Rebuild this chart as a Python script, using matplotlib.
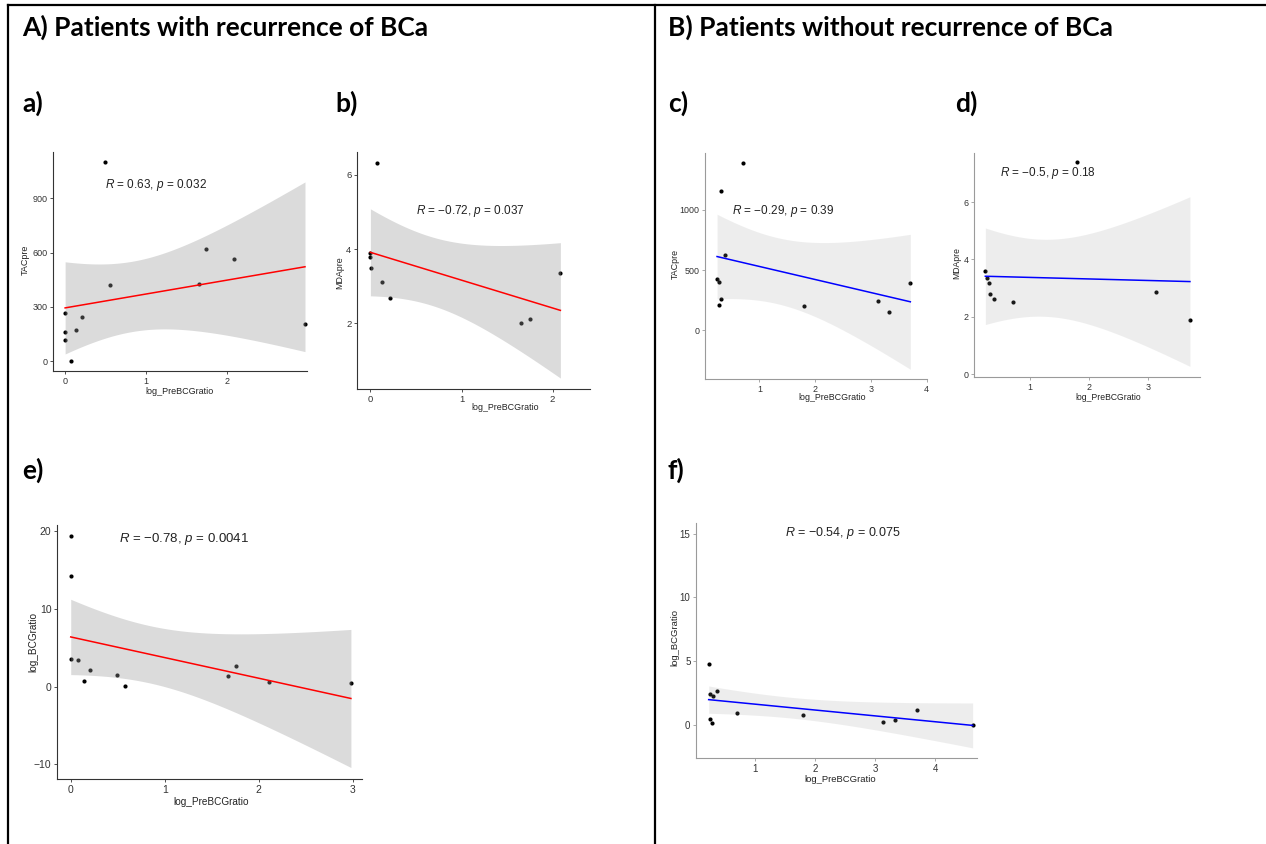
import numpy as np
import matplotlib
matplotlib.use("Agg")
import matplotlib.pyplot as plt
from matplotlib.lines import Line2D

plt.rcParams["font.family"] = ["Liberation Sans", "DejaVu Sans"]
plt.rcParams["mathtext.fontset"] = "custom"
plt.rcParams["mathtext.it"] = "Liberation Sans:italic"
plt.rcParams["mathtext.rm"] = "Liberation Sans"

W, H = 1266, 844

# --- data (log_PreBCGratio vs outcome) ---
# A) patients with recurrence
a_x = [0.49, 0.0, 0.0, 0.0, 0.07, 0.13, 0.21, 0.56, 1.66, 1.75, 2.09, 2.97]
a_y = [1103, 266, 159, 114, 2, 171, 242, 420, 428, 620, 564, 203]

b_x = [0.074, 0.0, 0.0, 0.007, 0.13, 0.21, 1.65, 1.75, 2.085]
b_y = [6.32, 3.90, 3.79, 3.49, 3.11, 2.69, 2.00, 2.12, 3.35]

e_x = [0.0, 0.0, 0.007, 0.078, 0.138, 0.209, 0.497, 0.575, 1.672, 1.764, 2.105, 2.982]
e_y = [19.42, 14.23, 3.60, 3.39, 0.81, 2.14, 1.50, 0.04, 1.41, 2.74, 0.64, 0.47]

# B) patients without recurrence
c_x = [0.713, 0.311, 0.389, 0.240, 0.281, 0.269, 0.305, 1.808, 3.126, 3.323, 3.707]
c_y = [1389, 1160, 625, 424, 402, 209, 259, 204, 245, 154, 391]

d_x = [1.80, 0.25, 0.279, 0.313, 0.324, 0.397, 0.718, 3.12, 3.70]
d_y = [7.40, 3.60, 3.36, 3.17, 2.81, 2.63, 2.52, 2.87, 1.89]

f_x = [0.229, 0.257, 0.301, 0.373, 0.257, 0.290, 0.700, 1.799, 3.124, 3.324, 3.696, 4.622]
f_y = [4.79, 2.43, 2.28, 2.62, 0.45, 0.13, 0.94, 0.76, 0.18, 0.39, 1.13, 0.00]

labels_r = {
    "a": "$R$ = 0.63, $p$ = 0.032",
    "b": "$R$ = \u22120.72, $p$ = 0.037",
    "c": "$R$ = \u22120.29, $p$ = 0.39",
    "d": "$R$ = \u22120.5, $p$ = 0.18",
    "e": "$R$ = \u22120.78, $p$ = 0.0041",
    "f": "$R$ = \u22120.54, $p$ = 0.075",
}

# t quantiles (0.975) for the lm confidence band, by degrees of freedom
T975 = {7: 2.3646, 9: 2.2622, 10: 2.2281}


def lm_band(x, y, n_grid=80):
    x = np.asarray(x, float)
    y = np.asarray(y, float)
    n = len(x)
    b1, b0 = np.polyfit(x, y, 1)
    xg = np.linspace(x.min(), x.max(), n_grid)
    yg = b0 + b1 * xg
    s = np.sqrt(np.sum((y - (b0 + b1 * x)) ** 2) / (n - 2))
    sxx = np.sum((x - x.mean()) ** 2)
    se = s * np.sqrt(1 / n + (xg - x.mean()) ** 2 / sxx)
    t = T975[n - 2]
    return xg, yg, yg - t * se, yg + t * se


def px_axes(l, t, r, b):
    return fig.add_axes([l / W, 1 - b / H, (r - l) / W, (b - t) / H])


def panel(box, x, y, col, band_a, axcol, xlim, ylim, xt, yt, ylab, key,
          txy, fs, xlab_px, ylab_px):
    ax = px_axes(*box)
    ax.scatter(x, y, s=9, color="black", lw=0, zorder=2)
    xg, yg, lo, hi = lm_band(x, y)
    ax.fill_between(xg, lo, hi, color="#999999", alpha=band_a, lw=0, zorder=3)
    ax.plot(xg, yg, color=col, lw=1.1, zorder=4)
    ax.set_xlim(xlim)
    ax.set_ylim(ylim)
    ax.set_xticks(xt)
    ax.set_yticks(yt)
    for s in ["top", "right"]:
        ax.spines[s].set_visible(False)
    for s in ["left", "bottom"]:
        ax.spines[s].set_color(axcol)
        ax.spines[s].set_linewidth(0.8)
    ax.tick_params(length=2.5, width=0.6, pad=1.5, color=axcol,
                   labelcolor="#333333", labelsize=fs[0])
    ax.text(txy[0], txy[1], labels_r[key], fontsize=fs[2], color="#222222",
            ha="left", va="center", zorder=5)
    fig.text(xlab_px[0] / W, 1 - xlab_px[1] / H, "log_PreBCGratio",
             fontsize=fs[1], color="#222222", ha="center", va="center")
    fig.text(ylab_px[0] / W, 1 - ylab_px[1] / H, ylab, fontsize=fs[1],
             color="#222222", ha="center", va="center", rotation=90)
    return ax


fig = plt.figure(figsize=(W / 100, H / 100), dpi=100)

# table-like frame
for (x0, y0, x1, y1) in [(8, 5, 1266, 5), (8, 5, 8, 844), (655, 5, 655, 844)]:
    fig.add_artist(Line2D([x0 / W, x1 / W], [1 - y0 / H, 1 - y1 / H],
                          color="black", lw=1.6))

hdr = dict(fontsize=19, weight="bold", family="Lato", va="center", ha="left")
fig.text(22 / W, 1 - 27 / H, "A) Patients with recurrence of BCa", **hdr)
fig.text(668 / W, 1 - 27 / H, "B) Patients without recurrence of BCa", **hdr)
fig.text(22 / W, 1 - 103 / H, "a)", **hdr)
fig.text(335 / W, 1 - 103 / H, "b)", **hdr)
fig.text(668 / W, 1 - 103 / H, "c)", **hdr)
fig.text(955 / W, 1 - 103 / H, "d)", **hdr)
fig.text(22 / W, 1 - 470 / H, "e)", **hdr)
fig.text(668 / W, 1 - 470 / H, "f)", **hdr)

red_band, blue_band = 0.35, 0.17
dark, light = "#333333", "#9a9a9a"

panel((53, 152, 307, 371), a_x, a_y, "red", red_band, dark,
      (-0.15, 2.995), (-55, 1157), [0, 1, 2], [0, 300, 600, 900], "TACpre", "a",
      (0.49, 977), (6.5, 6.5, 8.5), (180, 391), (25, 260))

panel((357, 152, 590, 389), b_x, b_y, "red", red_band, dark,
      (-0.147, 2.41), (0.233, 6.61), [0, 1, 2], [2, 4, 6], "MDApre", "b",
      (0.505, 5.02), (6.8, 6.4, 8.5), (505, 408), (340, 273))

panel((705, 153, 927, 379), c_x, c_y, "blue", blue_band, light,
      (0.024, 4.006), (-402, 1471), [1, 2, 3, 4], [0, 500, 1000], "TACpre", "c",
      (0.503, 989), (6.4, 6.4, 8.5), (832, 398), (675, 264))

panel((974, 153, 1200, 377), d_x, d_y, "blue", blue_band, light,
      (0.059, 3.87), (-0.10, 7.71), [1, 2, 3], [0, 2, 4, 6], "MDApre", "d",
      (0.504, 7.02), (6.4, 6.2, 8.5), (1108, 397), (957, 263))

panel((57, 525, 362, 779), e_x, e_y, "red", red_band, dark,
      (-0.146, 3.10), (-11.87, 20.83), [0, 1, 2, 3], [-10, 0, 10, 20],
      "log_BCGratio", "e", (0.511, 19.03), (7.5, 7.2, 9.5), (211, 802), (33, 642))

panel((696, 523, 977, 758), f_x, f_y, "blue", blue_band, light,
      (0.018, 4.694), (-2.62, 15.84), [1, 2, 3, 4], [0, 5, 10, 15],
      "log_BCGratio", "f", (1.494, 15.05), (7, 6.8, 9), (840, 779), (675, 637))

fig.savefig("out.png", dpi=100)
